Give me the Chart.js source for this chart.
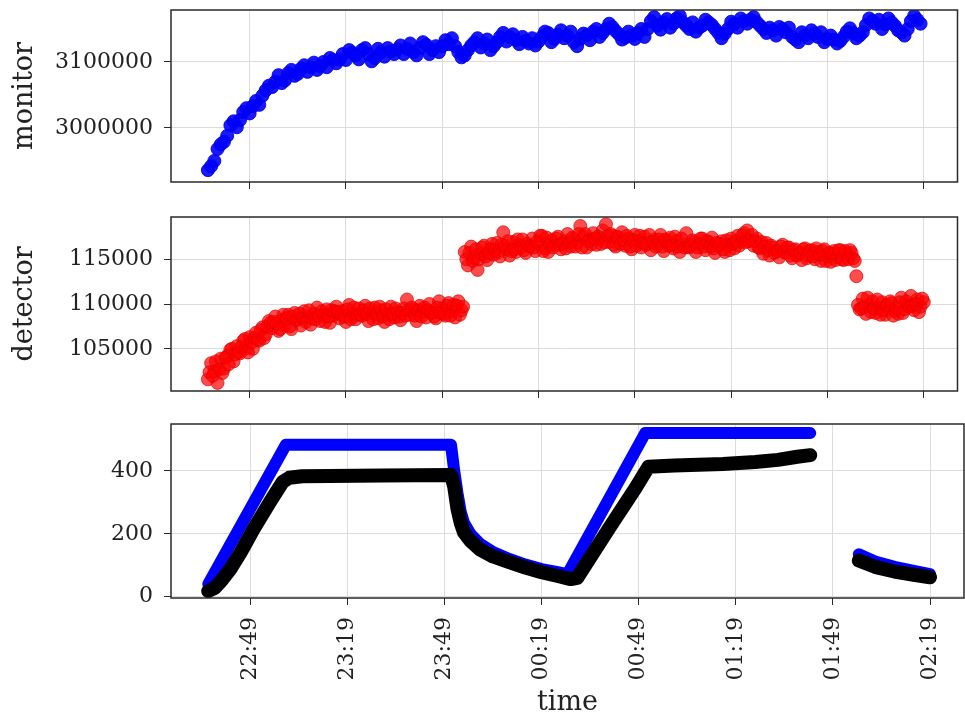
<!DOCTYPE html>
<html>
<head>
<meta charset="utf-8">
<script src="https://cdn.jsdelivr.net/npm/chart.js@4.4.1/dist/chart.umd.min.js"></script>
<style>
  body { margin: 0; background: #fff; }
  #wrap { position: relative; width: 965px; height: 716px; background: #fff; }
  canvas { position: absolute; left: 0; }
</style>
</head>
<body>
<div id="wrap">
  <canvas id="painelMonitor" width="965" height="200" style="top:0px"></canvas>
  <canvas id="painelDetector" width="965" height="210" style="top:200px"></canvas>
  <canvas id="painelTemp" width="965" height="306" style="top:410px"></canvas>
</div>
<script>
// tempo em minutos contados a partir de 22:00
const ticksTempo = [49, 79, 109, 139, 169, 199, 229, 259];

// monitor: uma leitura por minuto, de 22:36 em diante
const monitorInicio = 36;
const monitorValores = [
    2936000, 2942000, 2950000, 2968000, 2975000, 2979000, 2988000, 3004000, 3010000, 3001000,
    3012000, 3024000, 3030000, 3022000, 3033000, 3041000, 3035000, 3049000, 3057000, 3064000,
    3062000, 3070000, 3080000, 3068000, 3072000, 3083000, 3088000, 3079000, 3082000, 3090000,
    3095000, 3085000, 3092000, 3099000, 3088000, 3094000, 3100000, 3092000, 3106000, 3103000,
    3098000, 3104000, 3112000, 3103000, 3118000, 3114000, 3110000, 3104000, 3118000, 3121000,
    3112000, 3101000, 3106000, 3120000, 3115000, 3108000, 3121000, 3116000, 3112000, 3119000,
    3125000, 3112000, 3120000, 3128000, 3115000, 3110000, 3121000, 3130000, 3126000, 3112000,
    3118000, 3124000, 3115000, 3124000, 3133000, 3127000, 3136000, 3124000, 3115000, 3107000,
    3110000, 3118000, 3125000, 3130000, 3136000, 3122000, 3128000, 3134000, 3118000, 3124000,
    3130000, 3138000, 3144000, 3131000, 3138000, 3142000, 3133000, 3127000, 3138000, 3132000,
    3128000, 3136000, 3125000, 3131000, 3138000, 3146000, 3144000, 3130000, 3135000, 3141000,
    3148000, 3136000, 3140000, 3146000, 3130000, 3124000, 3135000, 3143000, 3140000, 3133000,
    3146000, 3150000, 3138000, 3144000, 3150000, 3158000, 3153000, 3147000, 3142000, 3134000,
    3137000, 3146000, 3140000, 3135000, 3144000, 3150000, 3138000, 3150000, 3162000, 3168000,
    3155000, 3149000, 3160000, 3165000, 3152000, 3158000, 3166000, 3170000, 3160000, 3155000,
    3150000, 3160000, 3146000, 3152000, 3155000, 3164000, 3160000, 3156000, 3150000, 3144000,
    3136000, 3143000, 3150000, 3161000, 3158000, 3152000, 3166000, 3162000, 3158000, 3164000,
    3168000, 3160000, 3155000, 3150000, 3144000, 3152000, 3148000, 3140000, 3153000, 3150000,
    3145000, 3152000, 3138000, 3134000, 3130000, 3145000, 3140000, 3136000, 3148000, 3143000,
    3138000, 3145000, 3130000, 3135000, 3140000, 3134000, 3128000, 3132000, 3138000, 3146000,
    3151000, 3144000, 3136000, 3140000, 3145000, 3156000, 3166000, 3162000, 3158000, 3164000,
    3150000, 3157000, 3166000, 3160000, 3155000, 3148000, 3145000, 3140000, 3150000, 3162000,
    3170000, 3164000, 3158000
];
const monitorTicks = [3000000, 3100000];

// detector: leituras nos minutos cheios, de 22:36 em diante
const detectorInicio = 36;
const detectorValores = [
    101600, 103400, 102500, 101200, 103900, 102800, 104200, 104900, 103600, 105300,
    104500, 105900, 105100, 106300, 105000, 106800, 105900, 107400, 106600, 108100,
    107300, 108600, 107000, 108200, 107600, 108800, 107200, 109000, 108300, 107600,
    109200, 108500, 107700, 108900, 109600, 108100, 108800, 109400, 107900, 108700,
    109700, 108400, 109200, 108000, 109900, 108900, 108300, 109500, 108700, 109800,
    108100, 109000, 109600, 108400, 109300, 108000, 108900, 109700, 108500, 109100,
    108200, 109500, 110500, 108800, 109400, 108100, 109800, 109100, 108500, 110000,
    109000, 108400, 110300, 109500, 108700, 110100, 109200, 108500, 110300, 109300,
    115800, 114300, 116400, 115100, 113800, 115600, 116500, 114900, 116100, 115500,
    116800, 115300, 118000, 116100, 115400, 116900, 115800, 116600, 117200, 115700,
    116500, 117300, 115900, 116700, 117600, 116200, 115800, 117100, 116600, 117500,
    116100, 117000, 117800, 116400, 117300, 116800, 118700, 117500, 116300, 117200,
    117900, 116600, 117300, 118200, 118900, 116900, 117600, 116400, 117400, 118000,
    116500, 117300, 116100, 117700, 117000, 116300, 117500, 116800, 116000, 117200,
    116600, 117700, 115900, 116900, 117400, 116200, 117000, 115800, 116600, 117900,
    116300, 117100, 115800, 116700, 117300, 116000, 116900, 117400, 115700, 116500,
    117000, 115800, 116600, 117300, 116200, 117600, 116900, 117900, 118200, 117100,
    116500, 117300, 116200, 115600, 116800, 115400, 116300, 115900, 115200, 116600,
    115700, 116300, 115100, 116100, 115600, 114900, 116200, 115400, 116000, 115000,
    115800, 114800, 116100, 115300, 114700, 115900, 115200, 116000, 114900, 115600,
    116000, 115100, 113100, 109400, 110600, 108900, 109800, 110300, 109000, 109600,
    110200, 108800, 109500, 110100, 109200, 108900, 110700, 109400, 109900, 110900,
    109300, 110500, 109700, 110200
];
// detector: leituras nos meios-minutos, de 22:36:30 em diante
const detectorMeioInicio = 36.5;
const detectorMeioValores = [
    102400, 102000, 103600, 102700, 102300, 104000, 103300, 105000, 104400, 104600,
    105200, 106100, 104600, 105700, 106200, 106000, 107100, 106200, 107500, 107900,
    108000, 107800, 107200, 108800, 108400, 107500, 108600, 108200, 108900, 108400,
    108000, 109300, 108400, 108300, 108700, 109200, 108000, 108600, 109300, 109200,
    109100, 108800, 108600, 109400, 108300, 109600, 108800, 108800, 109300, 108900,
    109500, 108300, 108900, 109700, 108600, 109400, 108300, 108900, 109500, 108600,
    109000, 108700, 109300, 109600, 108700, 109300, 108600, 109600, 109300, 109000,
    108600, 109600, 109000, 108900, 109800, 108700, 109900, 109800, 108800, 109700,
    115000, 115700, 114800, 116100, 115000, 116300, 115300, 115700, 116700, 116000,
    115800, 116600, 116500, 117000, 115900, 116100, 117200, 116300, 116000, 116700,
    116400, 116300, 116900, 117600, 115900, 117400, 116600, 116300, 117300, 116600,
    116700, 116200, 116800, 117400, 116400, 117800, 116300, 117800, 117000, 116700,
    117300, 117500, 116700, 116900, 117600, 117800, 116600, 117500, 116700, 117100,
    117600, 116400, 117100, 116500, 117600, 116800, 116600, 117700, 116900, 116400,
    117200, 116400, 117200, 116500, 116500, 117500, 116400, 117300, 116300, 116400,
    116600, 116900, 116300, 117300, 116400, 117000, 116400, 116200, 116800, 116700,
    116100, 117100, 116000, 116700, 117000, 116500, 117600, 116900, 117000, 117700,
    117000, 116300, 116900, 116400, 116000, 116500, 115700, 115900, 116400, 115800,
    116300, 115400, 116000, 115400, 115700, 116100, 115100, 115900, 115300, 116200,
    115500, 115900, 114800, 115700, 115600, 114900, 116000, 115000, 115900, 115000,
    115700, 114800, 109900, 109500, 109700, 110700, 109100, 109500, 110500, 108800,
    109300, 109900, 110300, 108700, 109600, 110200, 109000, 110300, 109700, 109800,
    110000, 109100, 110600
];
const detectorTicks = [105000, 110000, 115000];

// painel de baixo: setpoint (azul) e leitura (preto); null = sem dados
const azulTempos = [36, 60, 111, 112, 113, 114, 115, 117, 120, 124, 129, 134, 139, 144, 147,
    171, 222, 230, 237, 242, 248, 254, 259];
const azulValores = [40, 483, 483, 400, 330, 270, 235, 200, 168, 142, 120, 102, 88, 78, 72,
    520, 520, null, 135, 112, 95, 82, 72];
const pretoTempos = [36, 38, 40, 43, 46, 50, 55, 59, 61, 65, 90, 111, 112, 113, 114, 115, 117, 120, 124, 129,
    134, 139, 144, 148, 150, 160, 168, 172, 180, 195, 205, 212, 218, 222, 230, 237, 242, 248, 254, 259];
const pretoValores = [18, 28, 50, 90, 140, 215, 300, 365, 378, 383, 385, 387, 350, 280, 235, 205, 178, 150, 128, 110,
    93, 78, 66, 56, 60, 220, 345, 413, 417, 422, 428, 435, 445, 450, null, 115, 95, 80, 70, 62];
const tempTicks = [0, 200, 400];

const fonte = "'DejaVu Serif', serif";
const corTexto = "#222";
const corGrade = "#dcdcdc";

function formatarHora(v) {
    const h = (22 + Math.floor(v / 60)) % 24;
    const m = v % 60;
    return String(h).padStart(2, "0") + ":" + String(m).padStart(2, "0");
}

const moldura = {
    id: "moldura",
    afterDatasetsDraw(chart) {
        const a = chart.chartArea;
        const c = chart.ctx;
        c.save();
        c.strokeStyle = "#2a2a2a";
        c.lineWidth = 1.5;
        c.strokeRect(a.left, a.top, a.right - a.left, a.bottom - a.top);
        c.restore();
    }
};

function opcoes(cfg) {
    return {
        responsive: false,
        animation: false,
        layout: { padding: { top: cfg.topo, right: 1, left: 0, bottom: 0 } },
        plugins: { legend: { display: false }, tooltip: { enabled: false } },
        scales: {
            x: {
                type: "linear",
                min: 24.5,
                max: 269.5,
                afterBuildTicks: (s) => { s.ticks = ticksTempo.map(v => ({ value: v })); },
                afterFit: (s) => {
                    s.height = cfg.alturaX;
                    s.paddingLeft = 0;
                    s.paddingRight = 0;
                },
                grid: { color: corGrade, tickColor: "#2a2a2a", tickLength: 7, lineWidth: 1 },
                border: { display: false },
                ticks: {
                    display: cfg.rotulosX,
                    minRotation: 90,
                    maxRotation: 90,
                    padding: 12,
                    color: corTexto,
                    font: { family: fonte, size: 22 },
                    callback: (v) => formatarHora(v)
                },
                title: {
                    display: cfg.rotulosX,
                    text: "time",
                    color: corTexto,
                    font: { family: fonte, size: 27, lineHeight: 1 },
                    padding: { top: 0, bottom: 0 }
                }
            },
            y: {
                min: cfg.yMin,
                max: cfg.yMax,
                afterBuildTicks: (s) => { s.ticks = cfg.yTicks.map(v => ({ value: v })); },
                afterFit: (s) => {
                    s.width = 171;
                    s.paddingTop = 0;
                    s.paddingBottom = 0;
                },
                grid: { color: corGrade, tickColor: "#2a2a2a", tickLength: 7, lineWidth: 1 },
                border: { display: false },
                ticks: {
                    padding: 11,
                    color: corTexto,
                    font: { family: fonte, size: 22 },
                    callback: (v) => String(v)
                },
                title: {
                    display: cfg.tituloY !== "",
                    text: cfg.tituloY,
                    color: corTexto,
                    font: { family: fonte, size: 27, lineHeight: 1 },
                    padding: { top: 11, bottom: 0 }
                }
            }
        }
    };
}

new Chart(document.getElementById("painelMonitor").getContext("2d"), {
    type: "scatter",
    data: {
        datasets: [{
            data: monitorValores.map((v, i) => ({ x: monitorInicio + i, y: v })),
            backgroundColor: "rgba(0,0,255,0.9)",
            borderColor: "rgba(0,0,235,0.9)",
            borderWidth: 1,
            pointRadius: 6.5
        }]
    },
    options: opcoes({ topo: 10, alturaX: 18, rotulosX: false, yMin: 2918000, yMax: 3178800, yTicks: monitorTicks, tituloY: "monitor" }),
    plugins: [moldura]
});

const pontosDetector = detectorValores.map((v, i) => ({ x: detectorInicio + i, y: v }))
    .concat(detectorMeioValores.map((v, i) => ({ x: detectorMeioInicio + i, y: v })));

new Chart(document.getElementById("painelDetector").getContext("2d"), {
    type: "scatter",
    data: {
        datasets: [{
            data: pontosDetector,
            backgroundColor: "rgba(255,0,0,0.7)",
            borderColor: "rgba(225,0,0,0.7)",
            borderWidth: 1,
            pointRadius: 6.5
        }]
    },
    options: opcoes({ topo: 17, alturaX: 19, rotulosX: false, yMin: 100300, yMax: 119700, yTicks: detectorTicks, tituloY: "detector" }),
    plugins: [moldura]
});

new Chart(document.getElementById("painelTemp").getContext("2d"), {
    type: "scatter",
    data: {
        datasets: [{
            data: azulTempos.map((t, i) => ({ x: t, y: azulValores[i] })),
            showLine: true,
            spanGaps: false,
            borderColor: "#0000ff",
            borderWidth: 12,
            borderCapStyle: "round",
            borderJoinStyle: "round",
            pointRadius: 0,
            order: 2
        }, {
            data: pretoTempos.map((t, i) => ({ x: t, y: pretoValores[i] })),
            showLine: true,
            spanGaps: false,
            borderColor: "#000000",
            borderWidth: 14,
            borderCapStyle: "round",
            borderJoinStyle: "round",
            pointRadius: 0,
            order: 1
        }]
    },
    options: opcoes({ topo: 14, alturaX: 118, rotulosX: true, yMin: -4, yMax: 549, yTicks: tempTicks, tituloY: "" }),
    plugins: [moldura]
});
</script>
</body>
</html>
